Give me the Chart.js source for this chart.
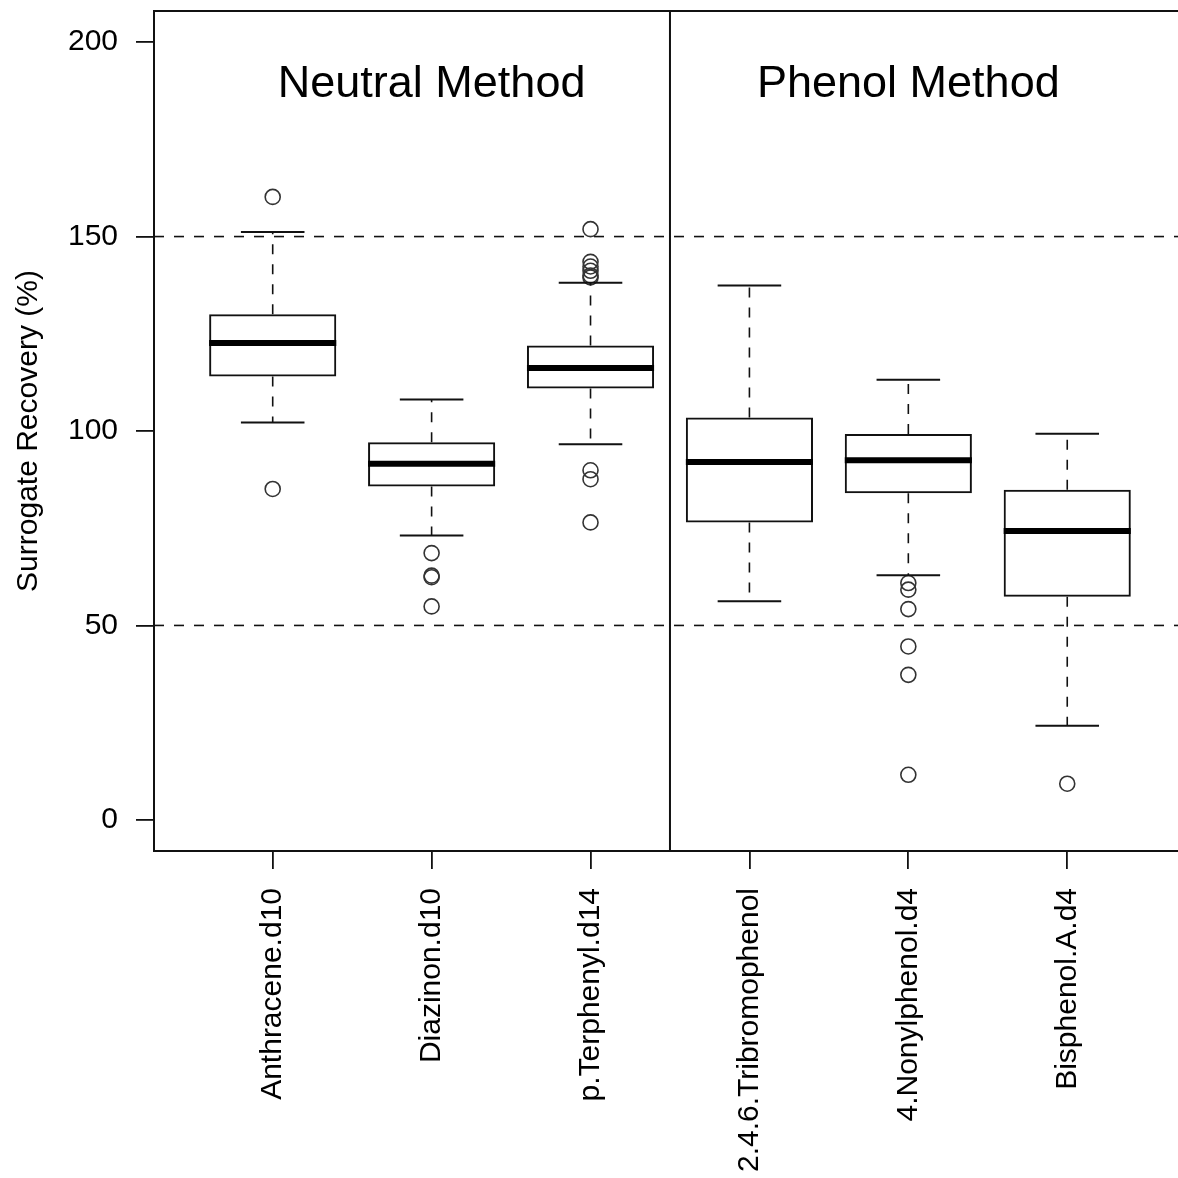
<!DOCTYPE html>
<html>
<head>
<meta charset="utf-8">
<script src="https://cdn.jsdelivr.net/npm/chart.js@4.4.0/dist/chart.umd.min.js"></script>
<style>
  html, body { margin: 0; padding: 0; background: #fff; }
</style>
</head>
<body>
<canvas id="recovery_box" width="1178" height="1178"></canvas>
<script>
const categories = ["Anthracene.d10", "Diazinon.d10", "p.Terphenyl.d14", "2.4.6.Tribromophenol", "4.Nonylphenol.d4", "Bisphenol.A.d4"];
const methods = ["Neutral Method", "Phenol Method"];
const methodGroups = [[0, 1, 2], [3, 4, 5]];

// box statistics
const q1 = [114.0, 85.7, 110.9, 76.5, 84.0, 57.4];
const q3 = [130.0, 97.1, 122.0, 103.5, 99.2, 84.9];
const medians = [122.6, 91.6, 116.2, 92.0, 92.5, 74.3];
const whiskerLow = [102.2, 73.1, 96.6, 56.2, 62.9, 24.2];
const whiskerHigh = [151.2, 108.1, 138.1, 137.4, 113.2, 99.3];
const outliers = [
  [160.2, 85.1],
  [68.6, 62.8, 62.4, 54.9],
  [151.9, 143.5, 142.3, 141.2, 140.0, 139.5, 89.9, 87.6, 76.5],
  [],
  [60.9, 59.2, 54.2, 44.6, 37.3, 11.6],
  [9.3]
];

const yTicks = [0, 50, 100, 150, 200];
const refLines = [50, 150];
const titleLevel = 190;

(function () {
  const FONT = "'Liberation Sans', Arial, sans-serif";
  Chart.defaults.color = "#000";
  Chart.defaults.font.family = FONT;

  const boxParts = {
    id: "boxParts",
    beforeDatasetsDraw(chart) {
      const { ctx, chartArea: a, scales: { y } } = chart;
      ctx.save();
      ctx.strokeStyle = "#111";
      ctx.lineWidth = 1.6;
      ctx.setLineDash([10, 10]);
      refLines.forEach((v) => {
        const py = y.getPixelForValue(v);
        ctx.beginPath();
        ctx.moveTo(a.left, py);
        ctx.lineTo(a.right, py);
        ctx.stroke();
      });
      ctx.restore();
    },
    afterDatasetsDraw(chart) {
      const { ctx, chartArea: a, scales: { x, y } } = chart;
      const bars = chart.getDatasetMeta(0).data;
      ctx.save();
      ctx.strokeStyle = "#111";
      categories.forEach((c, i) => {
        const px = x.getPixelForValue(i + 1);
        const w = bars[i].width;
        // whiskers
        ctx.lineWidth = 1.6;
        ctx.setLineDash([10, 10]);
        ctx.beginPath();
        ctx.moveTo(px, y.getPixelForValue(q3[i]));
        ctx.lineTo(px, y.getPixelForValue(whiskerHigh[i]));
        ctx.moveTo(px, y.getPixelForValue(q1[i]));
        ctx.lineTo(px, y.getPixelForValue(whiskerLow[i]));
        ctx.stroke();
        // caps
        ctx.setLineDash([]);
        ctx.lineWidth = 2;
        ctx.beginPath();
        [whiskerHigh[i], whiskerLow[i]].forEach((v) => {
          const py = y.getPixelForValue(v);
          ctx.moveTo(px - w / 4, py);
          ctx.lineTo(px + w / 4, py);
        });
        ctx.stroke();
        // median
        ctx.lineWidth = 6;
        ctx.strokeStyle = "#000";
        ctx.beginPath();
        const pm = y.getPixelForValue(medians[i]);
        ctx.moveTo(px - w / 2, pm);
        ctx.lineTo(px + w / 2, pm);
        ctx.stroke();
        ctx.strokeStyle = "#111";
      });

      // separator between the two methods
      ctx.lineWidth = 2;
      ctx.beginPath();
      const sx = x.getPixelForValue((methodGroups[0][methodGroups[0].length - 1] + methodGroups[1][0]) / 2 + 1);
      ctx.moveTo(sx, a.top);
      ctx.lineTo(sx, a.bottom);
      // frame (right side falls outside the picture)
      ctx.moveTo(a.right, a.top);
      ctx.lineTo(a.left, a.top);
      ctx.lineTo(a.left, a.bottom);
      ctx.lineTo(a.right, a.bottom);
      ctx.stroke();

      // method titles
      ctx.fillStyle = "#000";
      ctx.font = "45px " + FONT;
      ctx.textAlign = "center";
      ctx.textBaseline = "alphabetic";
      methods.forEach((m, k) => {
        const g = methodGroups[k];
        const cx = x.getPixelForValue((g[0] + g[g.length - 1]) / 2 + 1);
        ctx.fillText(m, cx, y.getPixelForValue(titleLevel) + 16);
      });
      ctx.restore();
    }
  };

  const ctx = document.getElementById("recovery_box").getContext("2d");
  new Chart(ctx, {
    type: "bar",
    data: {
      datasets: [
        {
          type: "bar",
          data: categories.map((c, i) => ({ x: i + 1, y: [q1[i], q3[i]] })),
          backgroundColor: "rgba(255,255,255,0)",
          borderColor: "#111",
          borderWidth: 2,
          borderSkipped: false,
          grouped: false,
          categoryPercentage: 1,
          barPercentage: 0.8,
        },
        {
          type: "scatter",
          data: outliers.flatMap((arr, i) => arr.map((v) => ({ x: i + 1, y: v }))),
          pointStyle: "circle",
          pointRadius: 7.5,
          borderColor: "#333",
          borderWidth: 1.6,
          backgroundColor: "rgba(255,255,255,0)",
          showLine: false,
        },
      ],
    },
    options: {
      responsive: false,
      animation: false,
      layout: { autoPadding: false, padding: { top: 11, right: 0, bottom: 0, left: 0 } },
      plugins: { legend: { display: false }, tooltip: { enabled: false } },
      scales: {
        x: {
          type: "linear",
          min: 0.253,
          max: 6.697,
          offset: false,
          afterFit: (s) => {
            s.height = 327;
            s.paddingLeft = 0;
            s.paddingRight = 0;
          },
          afterBuildTicks: (s) => { s.ticks = categories.map((c, i) => ({ value: i + 1 })); },
          grid: { drawOnChartArea: false, drawTicks: true, tickLength: 18, color: "#111", lineWidth: 1.8, offset: false },
          border: { display: false },
          ticks: {
            autoSkip: false,
            minRotation: 90,
            maxRotation: 90,
            padding: 19,
            font: { size: 30 },
            callback: (v) => categories[Math.round(v) - 1],
          },
        },
        y: {
          min: -8,
          max: 208,
          afterFit: (s) => {
            s.width = 154;
            s.paddingTop = 0;
            s.paddingBottom = 0;
          },
          afterBuildTicks: (s) => { s.ticks = yTicks.map((v) => ({ value: v })); },
          grid: { drawOnChartArea: false, drawTicks: true, tickLength: 18, color: "#111", lineWidth: 1.8 },
          border: { display: false },
          ticks: { padding: 18, font: { size: 30 } },
          title: { display: true, text: "Surrogate Recovery (%)", font: { size: 30 }, padding: { top: 11 } },
        },
      },
    },
    plugins: [boxParts],
  });
})();
</script>
</body>
</html>
